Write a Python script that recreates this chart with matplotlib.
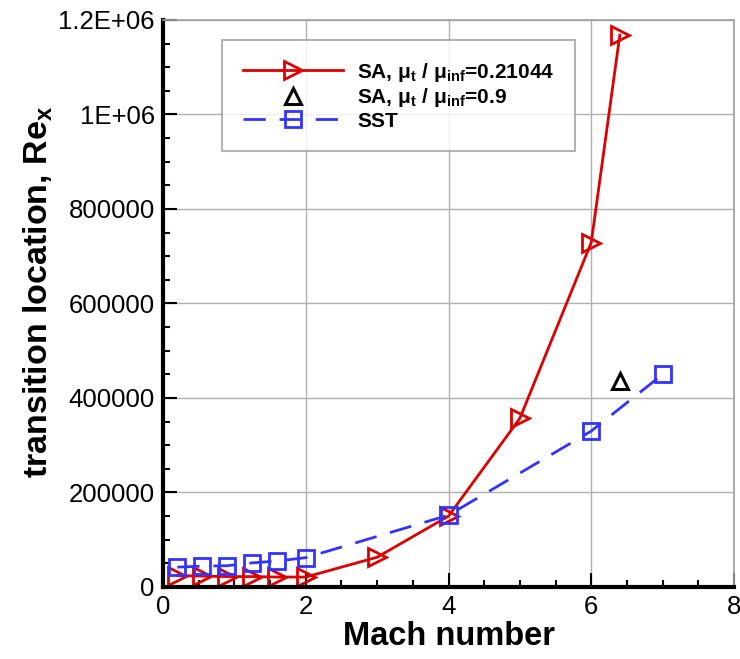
import matplotlib
matplotlib.use("Agg")
import matplotlib.pyplot as plt
from matplotlib.ticker import MultipleLocator, FuncFormatter

plt.rcParams['font.family'] = ['Liberation Sans', 'DejaVu Sans']
plt.rcParams['mathtext.fontset'] = 'custom'
plt.rcParams['mathtext.rm'] = 'Liberation Sans'
plt.rcParams['mathtext.bf'] = 'Liberation Sans:bold'
plt.rcParams['mathtext.it'] = 'Liberation Sans:italic'
plt.rcParams['mathtext.default'] = 'bf'

# SA, mu_t/mu_inf = 0.21044
sa_mach = [0.2, 0.55, 0.9, 1.25, 1.6, 2.0, 3.0, 4.0, 5.0, 6.0, 6.4]
sa_rex = [24000, 23000, 22000, 22000, 21000, 21000, 63000, 150000, 357000, 729000, 1168000]

# SA, mu_t/mu_inf = 0.9
sa09_mach = [6.4]
sa09_rex = [435000]

# SST
sst_mach = [0.2, 0.55, 0.9, 1.25, 1.6, 2.0, 4.0, 6.0, 7.0]
sst_rex = [42000, 44000, 45000, 51000, 55000, 62000, 152000, 330000, 450000]

fig = plt.figure(figsize=(7.4, 6.59), dpi=100)
ax = fig.add_axes([0.2203, 0.1093, 0.7716, 0.8604])

ax.plot(sa_mach, sa_rex, color='#dd0000', lw=2, marker='>', ms=13,
        mfc='none', mec='#dd0000', mew=2,
        label=r'SA, $\mu_t$ / $\mu_{inf}$=0.21044')
ax.plot(sa09_mach, sa09_rex, ls='none', marker='^', ms=12, mfc='none',
        mec='black', mew=2.2, label=r'SA, $\mu_t$ / $\mu_{inf}$=0.9')
ax.plot(sst_mach, sst_rex, color='#3333ff', lw=2, dashes=(8, 5), marker='s',
        ms=12, mfc='none', mec='#3333ff', mew=2, label='SST')

ax.set_xlim(0, 8)
ax.set_ylim(0, 1.2e6)
ax.xaxis.set_major_locator(MultipleLocator(2))
ax.xaxis.set_minor_locator(MultipleLocator(0.5))
ax.yaxis.set_major_locator(MultipleLocator(200000))
ax.yaxis.set_minor_locator(MultipleLocator(50000))


def yfmt(v, pos):
    if v >= 1e6 - 1:
        if abs(v / 1e6 - round(v / 1e6)) > 1e-9:
            return '%.1E' % v
        return '%.0E' % v
    return '%d' % v


ax.yaxis.set_major_formatter(FuncFormatter(yfmt))
ax.grid(True, which='major', color='#b0b0b0', lw=1)
ax.set_axisbelow(True)
ax.tick_params(which='both', direction='in', top=False, right=False,
               width=1.5, labelsize=18.5, pad=6)
ax.tick_params(which='major', length=10)
ax.tick_params(which='minor', length=5)
for s in ['left', 'bottom']:
    ax.spines[s].set_linewidth(3)
for s in ['top', 'right']:
    ax.spines[s].set_linewidth(1.2)
    ax.spines[s].set_color('#a0a0a0')

ax.set_xlabel('Mach number', fontsize=23.5, fontweight='bold', labelpad=1)
ax.set_ylabel(r'transition location, Re$_x$', fontsize=24.5, fontweight='bold')
ax.yaxis.set_label_coords(-0.19, 0.52)

leg = ax.legend(loc='upper left', bbox_to_anchor=(0.103, 0.965),
                prop={'weight': 'bold', 'size': 15}, frameon=True,
                fancybox=False, edgecolor='#a0a0a0', handlelength=4.8,
                borderpad=1.0, labelspacing=0.12, handletextpad=0.7,
                borderaxespad=0)
leg.get_frame().set_linewidth(1.5)

fig.savefig('out.png', dpi=100)
